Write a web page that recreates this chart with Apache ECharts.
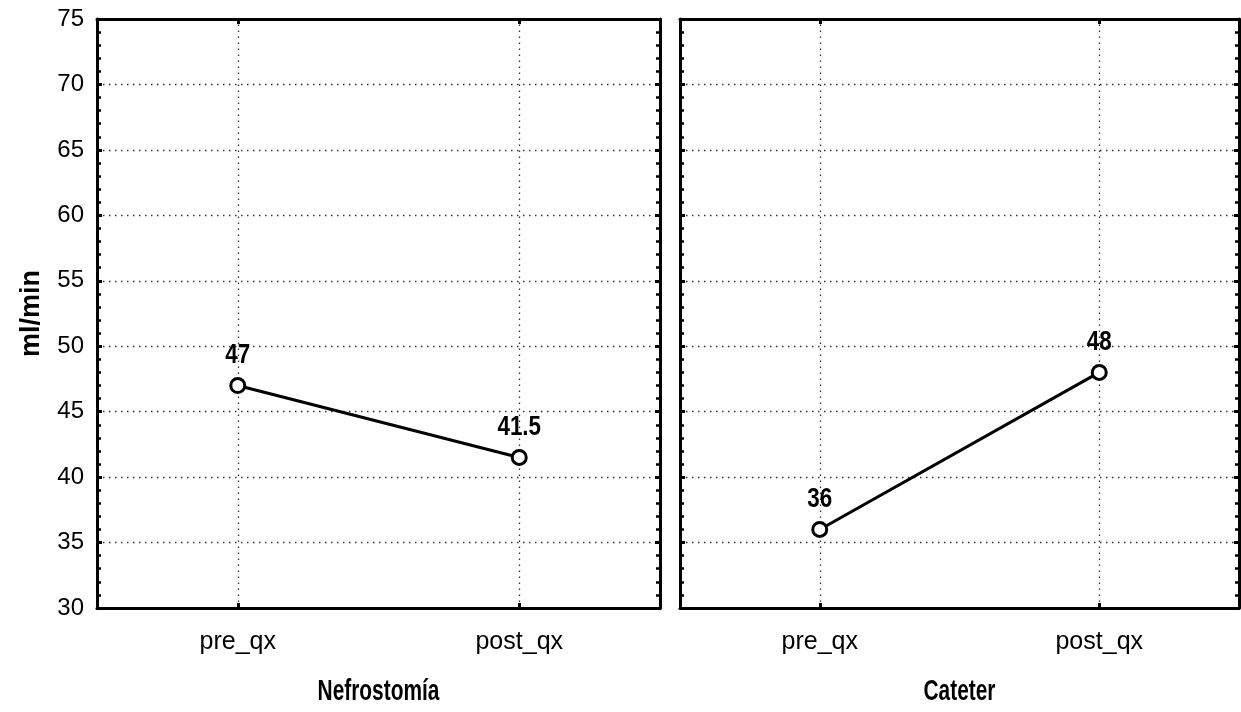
<!DOCTYPE html>
<html>
<head>
<meta charset="utf-8">
<script src="https://cdn.jsdelivr.net/npm/echarts@6/dist/echarts.min.js"></script>
<style>
html,body{margin:0;padding:0;background:#fff;overflow:hidden;}
#chart{width:1241px;height:712px;}
</style>
</head>
<body>
<div id="chart"></div>
<script>
const categories = ['pre_qx', 'post_qx'];
const nefrostomia = [47, 41.5];
const cateter = [36, 48];
const panelTitles = ['Nefrostomía', 'Cateter'];
const yAxisName = 'ml/min';
const yMin = 30, yMax = 75, yStep = 5;

const W = 1241, H = 712;
const regular = '"Liberation Sans", Arial, sans-serif';

const grids = [
  {left: 97, right: 581, top: 19, bottom: 104},
  {left: 680, right: 2, top: 19, bottom: 104}
];
const gridDash = {color: '#000', type: [1.5, 4.5], width: 1.3, opacity: 0.8};

function xAxisFor(i, pos) {
  const bottom = pos === 'bottom';
  return {
    type: 'category', gridIndex: i, data: categories, position: pos,
    boundaryGap: true,
    axisLine: {show: true, lineStyle: {color: '#000', width: 3}},
    axisTick: {show: true, inside: true, alignWithLabel: true, length: 5, lineStyle: {color: '#000', width: 3}},
    axisLabel: {show: bottom, color: '#000', fontFamily: regular, fontSize: 25, margin: 22},
    splitLine: {show: false}
  };
}
function yAxisFor(i, pos) {
  const left = pos === 'left';
  return {
    type: 'value', gridIndex: i, position: pos, min: yMin, max: yMax, interval: yStep,
    axisLine: {show: true, lineStyle: {color: '#000', width: 3}},
    axisTick: {show: true, inside: true, length: 5, lineStyle: {color: '#000', width: 3}},
    minorTick: {show: true, splitNumber: 5, length: 4, lineStyle: {color: '#000', width: 2.5}},
    axisLabel: {show: left && i === 0, color: '#000', fontFamily: regular, fontSize: 24, margin: 13},
    splitLine: {show: left, lineStyle: gridDash},
    name: (left && i === 0) ? yAxisName : '', nameLocation: 'middle', nameGap: 52, nameRotate: 90,
    nameTextStyle: {color: '#000', fontFamily: regular, fontWeight: 'bold', fontSize: 27}
  };
}

function lineSeries(i, data) {
  return {
    type: 'line', xAxisIndex: i * 2, yAxisIndex: i * 2, data: data,
    symbol: 'circle', symbolSize: 14, showSymbol: true,
    lineStyle: {color: '#000', width: 3},
    itemStyle: {color: '#fff', borderColor: '#000', borderWidth: 3},
    label: {show: false},
    markLine: {
      silent: true, symbol: 'none', label: {show: false},
      lineStyle: gridDash,
      data: categories.map(c => ({xAxis: c}))
    },
    animation: false, z: 5
  };
}
function labelSeries(i, data) {
  return {
    type: 'custom', xAxisIndex: i * 2, yAxisIndex: i * 2,
    data: data.map((v, k) => [k, v]),
    renderItem: function (params, api) {
      const p = api.coord([api.value(0), api.value(1)]);
      return {
        type: 'text', x: p[0], y: p[1] - 16, scaleX: 0.8,
        style: {
          text: String(api.value(1)), fill: '#000',
          font: 'bold 28px "Liberation Sans", Arial, sans-serif',
          align: 'center', verticalAlign: 'bottom',
          textAlign: 'center', textVerticalAlign: 'bottom'
        }
      };
    },
    z: 10, animation: false
  };
}

const chart = echarts.init(document.getElementById('chart'), null, {renderer: 'canvas', width: W, height: H});

function panelCenter(g) {
  return g.left + (W - g.left - g.right) / 2;
}
const titleGraphics = panelTitles.map((t, i) => ({
  type: 'text', x: panelCenter(grids[i]), y: 692, scaleX: 0.72,
  style: {
    text: t, fill: '#000', font: 'bold 29px "Liberation Sans", Arial, sans-serif',
    align: 'center', verticalAlign: 'middle', textAlign: 'center', textVerticalAlign: 'middle'
  }
}));

chart.setOption({
  backgroundColor: '#fff',
  animation: false,
  grid: grids,
  xAxis: [xAxisFor(0, 'bottom'), xAxisFor(0, 'top'), xAxisFor(1, 'bottom'), xAxisFor(1, 'top')],
  yAxis: [yAxisFor(0, 'left'), yAxisFor(0, 'right'), yAxisFor(1, 'left'), yAxisFor(1, 'right')],
  series: [lineSeries(0, nefrostomia), lineSeries(1, cateter), labelSeries(0, nefrostomia), labelSeries(1, cateter)],
  graphic: titleGraphics
});
</script>
</body>
</html>
